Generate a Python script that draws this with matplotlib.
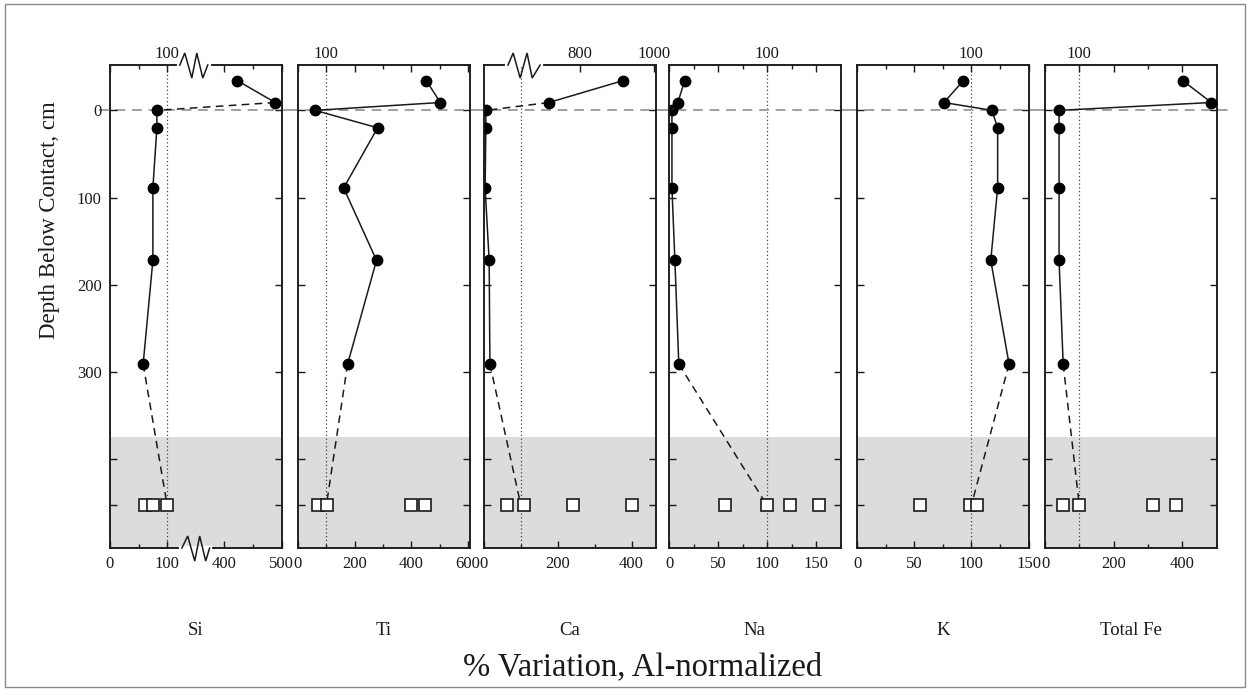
import matplotlib.pyplot as plt
import numpy as np
from matplotlib.patches import Rectangle

plt.rcParams['font.family'] = ['Liberation Serif', 'DejaVu Serif']

# depths in cm, negative = above the contact
depth_above = [-34, -9]
depth_profile = [0, 20, 89, 172, 291]
depth_parent = 453
parent_zone = 375
ref = 100

names = ['Si', 'Ti', 'Ca', 'Na', 'K', 'Total Fe']

si_above = [423, 489]
si_profile = [82, 82, 75, 75, 58]
si_parent = [62, 75, 100]

ti_above = [453, 502]
ti_profile = [60, 281, 161, 277, 175]
ti_parent = [70, 102, 400, 449]

ca_above = [916, 716]
ca_profile = [5, 5, 3, 14, 16]
ca_parent = [62, 108, 240, 400]

na_above = [16, 9]
na_profile = [3, 3, 3, 6, 10]
na_parent = [57, 100, 123, 153]

k_above = [93, 76]
k_profile = [118, 123, 123, 117, 133]
k_parent = [55, 99, 105]

fe_above = [402, 485]
fe_profile = [41, 41, 41, 41, 53]
fe_parent = [53, 100, 315, 382]

above = [si_above, ti_above, ca_above, na_above, k_above, fe_above]
profile = [si_profile, ti_profile, ca_profile, na_profile, k_profile, fe_profile]
parent = [si_parent, ti_parent, ca_parent, na_parent, k_parent, fe_parent]


def broken(a, b, c):
    # real values in [a, b] squeezed into [a, c]; above b shifted down by b - c
    shift = b - c

    def fwd(x):
        x = np.asarray(x, float)
        return np.where(x <= a, x, np.where(x >= b, x - shift, a + (x - a) * (c - a) / (b - a)))

    def inv(v):
        v = np.asarray(v, float)
        return np.where(v <= a, v, np.where(v >= c, v + shift, a + (v - a) * (b - a) / (c - a)))
    return fwd, inv


si_scale = broken(120, 375, 175)
ca_top_scale = broken(70, 694, 154)

xmax = [500, 605, 465, 175, 148, 500]
major = [[0, 100, 400, 500], [0, 200, 400, 600], [0, 200, 400], [0, 50, 100, 150],
         [0, 50, 100, 150], [0, 200, 400]]
minor = [[50, 450], [100, 300, 500], [100, 300], [25, 75, 125], [25, 75, 125], [100, 300]]
lefts = [110, 298, 484, 669, 857, 1045]

ink = '#1a1a1a'
fig = plt.figure(figsize=(12.5, 6.91), dpi=100)

zig_y = np.array([0, 12, -13, 12, -13, 0]) / 483.0


def zigzag(axis, xs, ybase):
    xs = np.array(xs)
    axis.plot([xs[0] - 0.005, xs[-1] + 0.005], [ybase, ybase], color='white', lw=3,
              transform=axis.transAxes, clip_on=False, zorder=6)
    axis.plot(xs, ybase + zig_y, color=ink, lw=1.1, transform=axis.transAxes,
              clip_on=False, zorder=7, solid_joinstyle='miter')


for i, name in enumerate(names):
    ax = fig.add_axes([lefts[i] / 1250, 0.2069, 171.5 / 1250, 0.699])
    top = ax.twiny()
    if i == 0:
        ax.set_xscale('function', functions=si_scale)
        top.set_xscale('function', functions=si_scale)
    if i == 2:
        top.set_xscale('function', functions=ca_top_scale)
        top.set_xlim(0, 1005)
    else:
        top.set_xlim(0, xmax[i])
    ax.set_xlim(0, xmax[i])
    ax.set_ylim(502, -52)

    ax.axhspan(parent_zone, 520, color='#dcdcdc', zorder=0, lw=0)
    ax.axvline(ref, color='#444444', lw=0.9, ls=(0, (1, 2)), zorder=1)
    ext_l = 0.065 if i == 0 else 0.05
    ext_r = 0.085 if i == 5 else 0.05
    ax.axhline(0, xmin=-ext_l, xmax=1 + ext_r, clip_on=False, color='#a0a0a0',
               lw=1.4, ls=(0, (5, 3.5)), zorder=1)

    # profile below contact
    ax.plot(profile[i], depth_profile, '-', color=ink, lw=1.1, zorder=3)
    ax.plot(profile[i], depth_profile, 'o', color='black', ms=7.5, zorder=4)
    # link to the parent material reference
    ax.plot([profile[i][-1], ref], [depth_profile[-1], depth_parent], color=ink,
            lw=1.1, ls=(0, (5, 3.5)), zorder=3)
    ax.plot(parent[i], [depth_parent] * len(parent[i]), 's', mfc='white', mec=ink,
            mew=1.2, ms=8.5, zorder=4, ls='none')

    # points above contact, drawn on the top axis
    link = (0, (5, 3.5)) if i in (0, 2) else '-'
    top.plot([above[i][-1], profile[i][0]], [depth_above[-1], depth_profile[0]],
             color=ink, lw=1.1, ls=link, zorder=3)
    top.plot(above[i], depth_above, '-', color=ink, lw=1.1, zorder=3)
    top.plot(above[i], depth_above, 'o', color='black', ms=7.5, zorder=4)

    ax.set_xticks(major[i])
    ax.set_xticks(minor[i], minor=True)
    if i == 2:
        top.set_xticks([800, 1000], labels=['800', '1000'])
        top.set_xticks([], minor=True)
    else:
        tmaj = sorted(set(major[i]) | {ref})
        top.set_xticks(tmaj, labels=[str(t) if t == ref else '' for t in tmaj])
        top.set_xticks([m for m in minor[i] if m != ref], minor=True)

    ax.set_yticks([0, 100, 200, 300, 400, depth_parent])
    if i == 0:
        ax.set_yticklabels(['0', '100', '200', '300', '', ''])
    else:
        ax.set_yticklabels([])

    for a in (ax, top):
        a.tick_params(which='both', direction='in', colors=ink, labelsize=12)
        a.tick_params(which='major', length=5, width=1)
        a.tick_params(which='minor', length=3, width=1)
        for s in a.spines.values():
            s.set_color(ink)
            s.set_linewidth(1.1)
    ax.tick_params(axis='x', pad=6)
    ax.tick_params(axis='y', right=True, pad=6)
    top.tick_params(axis='x', pad=2)

    if i == 0:
        zigzag(top, [0.407, 0.436, 0.477, 0.506, 0.541, 0.570], 1.0)
        zigzag(top, [0.419, 0.453, 0.494, 0.523, 0.558, 0.581], 0.0)
    if i == 2:
        zigzag(top, [0.140, 0.170, 0.211, 0.251, 0.281, 0.327], 1.0)

    ax.text(0.5, -0.17, name, transform=ax.transAxes, ha='center', va='center',
            fontsize=13.5, color=ink)

fig.text(0.514, 0.034, '% Variation, Al-normalized', ha='center', va='center',
         fontsize=23.5, color=ink)
fig.text(0.04, 0.682, 'Depth Below Contact, cm', ha='center', va='center',
         rotation=90, fontsize=16.5, color=ink)
fig.patches.append(Rectangle((0.004, 0.006), 0.992, 0.988, transform=fig.transFigure,
                             fill=False, ec='#8a8a8a', lw=1))

fig.savefig('out.png', dpi=100)
